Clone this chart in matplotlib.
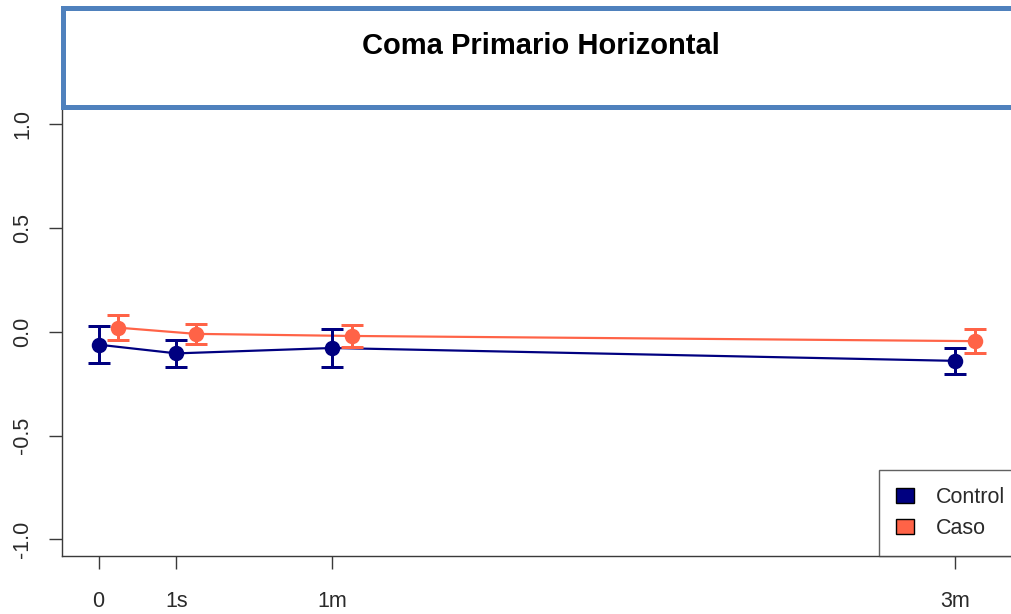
import matplotlib
matplotlib.use("Agg")
import matplotlib.pyplot as plt
from matplotlib.patches import Rectangle, Patch
import numpy as np

# ---- data ----
time_labels = ["0", "1s", "1m", "3m"]
time_pos = [0, 1, 3, 11]
control_mean = [-0.062, -0.104, -0.078, -0.140]
control_err = [0.088, 0.065, 0.090, 0.062]
caso_mean = [0.020, -0.010, -0.020, -0.045]
caso_err = [0.060, 0.047, 0.052, 0.058]
series_names = ["Control", "Caso"]
title_text = "Coma Primario Horizontal"
yticks = [-1.0, -0.5, 0.0, 0.5, 1.0]

W, H = 1011, 614
DPI = 100
plt.rcParams['font.family'] = ['Liberation Sans', 'DejaVu Sans']
fig = plt.figure(figsize=(W / DPI, H / DPI), dpi=DPI)

ax_left, ax_right = 62, 1048
ax_top, ax_bottom = 107.6, 556.0
ax = fig.add_axes([ax_left / W, (H - ax_bottom) / H,
                   (ax_right - ax_left) / W, (ax_bottom - ax_top) / H])
ax.set_xlim(-0.47, 12.19)
ax.set_ylim(-1.08, 1.08)

navy = "#000080"
tomato = "#FF6347"
offset = 0.25
px = 72.0 / DPI

x_ctrl = np.array(time_pos, dtype=float)
x_caso = x_ctrl + offset

for xs, m, e, c in [(x_ctrl, control_mean, control_err, navy),
                    (x_caso, caso_mean, caso_err, tomato)]:
    ax.plot(xs, m, color=c, lw=2.2 * px, solid_capstyle='butt', zorder=2)
    ax.errorbar(xs, m, yerr=e, fmt='none', ecolor=c,
                elinewidth=3 * px, capsize=11.5 * px,
                capthick=3 * px, zorder=3)
    ax.plot(xs, m, 'o', color=c, ms=15.5 * px, mew=0, zorder=4)

axis_col = "#3a3a3a"
text_col = "#2a2a2a"
for s in ["top", "right"]:
    ax.spines[s].set_visible(False)
for s in ["left", "bottom"]:
    ax.spines[s].set_color(axis_col)
    ax.spines[s].set_linewidth(1.4 * px)

ax.set_xticks(time_pos)
ax.set_xticklabels(time_labels)
ax.set_yticks(yticks)
ax.set_yticklabels([f"{v:.1f}" for v in yticks], rotation=90, va='center')
ax.tick_params(axis='both', colors=axis_col, labelcolor=text_col,
               length=13.5 * px, width=1.4 * px, labelsize=15.5)
ax.tick_params(axis='x', pad=15.5)
ax.tick_params(axis='y', pad=11)

# legend
handles = [Patch(facecolor=navy, edgecolor='black', linewidth=1.0),
           Patch(facecolor=tomato, edgecolor='black', linewidth=1.0)]
leg = fig.legend(handles, series_names, loc='lower left',
                 bbox_to_anchor=(879 / W, (H - 556) / H),
                 bbox_transform=fig.transFigure,
                 fontsize=15.5, frameon=True, fancybox=False,
                 handlelength=0.84, handleheight=0.72, handletextpad=1.0,
                 borderpad=0.8, labelspacing=0.45, borderaxespad=0,
                 labelcolor=text_col)
leg.get_frame().set_edgecolor(axis_col)
leg.get_frame().set_linewidth(1.4 * px)
leg.get_frame().set_facecolor('white')
leg.set_zorder(5)

# title box
box = Rectangle((62.5 / W, (H - 106.5) / H), (1100 - 62.5) / W, (106.5 - 8) / H,
                transform=fig.transFigure, fill=True, facecolor='white',
                edgecolor='#4F81BD', linewidth=5 * px, zorder=10)
fig.add_artist(box)
fig.text(540.5 / W, (H - 54) / H, title_text, ha='center', va='baseline',
         fontsize=21, fontweight='bold', color='black', zorder=11)

fig.savefig("out.png", dpi=DPI)
